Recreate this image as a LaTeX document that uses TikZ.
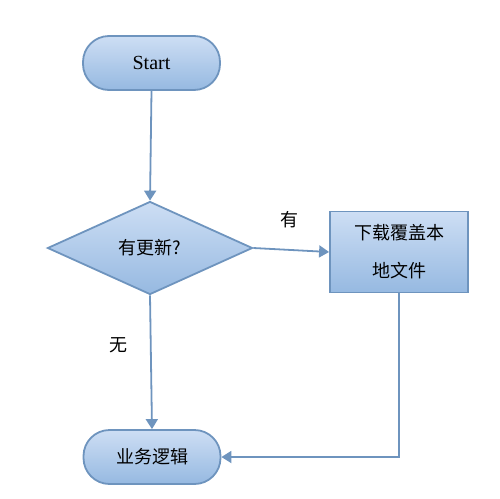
\documentclass[tikz,border=0pt]{standalone}
\usepackage{fontspec}
\setmainfont{Liberation Serif}
\newfontfamily\cjk{Noto Sans CJK SC}
\usetikzlibrary{shapes.geometric,arrows.meta}
\definecolor{edgec}{RGB}{110,148,190}
\definecolor{topc}{RGB}{205,222,244}
\definecolor{botc}{RGB}{150,185,225}
\tikzset{
  shp/.style={draw=edgec, line width=1.8pt, top color=topc, bottom color=botc, inner sep=0pt},
  term/.style={shp, rectangle, rounded corners=26pt, minimum width=137pt, minimum height=54pt},
  dec/.style={shp, diamond, minimum width=205pt, minimum height=93pt},
  proc/.style={shp, rectangle, minimum width=138pt, minimum height=81pt},
  conn/.style={draw=edgec, line width=1.8pt, -{Triangle[length=10pt,width=12pt]}},
  lbl/.style={font=\cjk\fontsize{18}{38}\selectfont}
}
\begin{document}
\begin{tikzpicture}[x=1pt,y=-1pt]
\useasboundingbox (0,0) rectangle (500,498);
\node[term, font=\fontsize{20}{24}\selectfont] (start) at (151.5,63) {Start};
\node[dec, lbl] (q) at (150,248) {有更新?};
\node[proc, lbl, align=center] (dl) at (399,252) {下载覆盖本\\地文件};
\node[term, lbl] (biz) at (152,457) {业务逻辑};
\coordinate (c) at (dl.south |- biz.east);
\draw[conn] (start.south) -- (q.north);
\draw[conn] (q.east) -- (dl.west);
\draw[conn] (q.south) -- (biz.north);
\draw[conn] (dl.south) -- (c) -- (biz.east);
\node[lbl] (yes) at (289,220) {有};
\node[lbl] (no) at (118,345) {无};
\end{tikzpicture}
\end{document}
